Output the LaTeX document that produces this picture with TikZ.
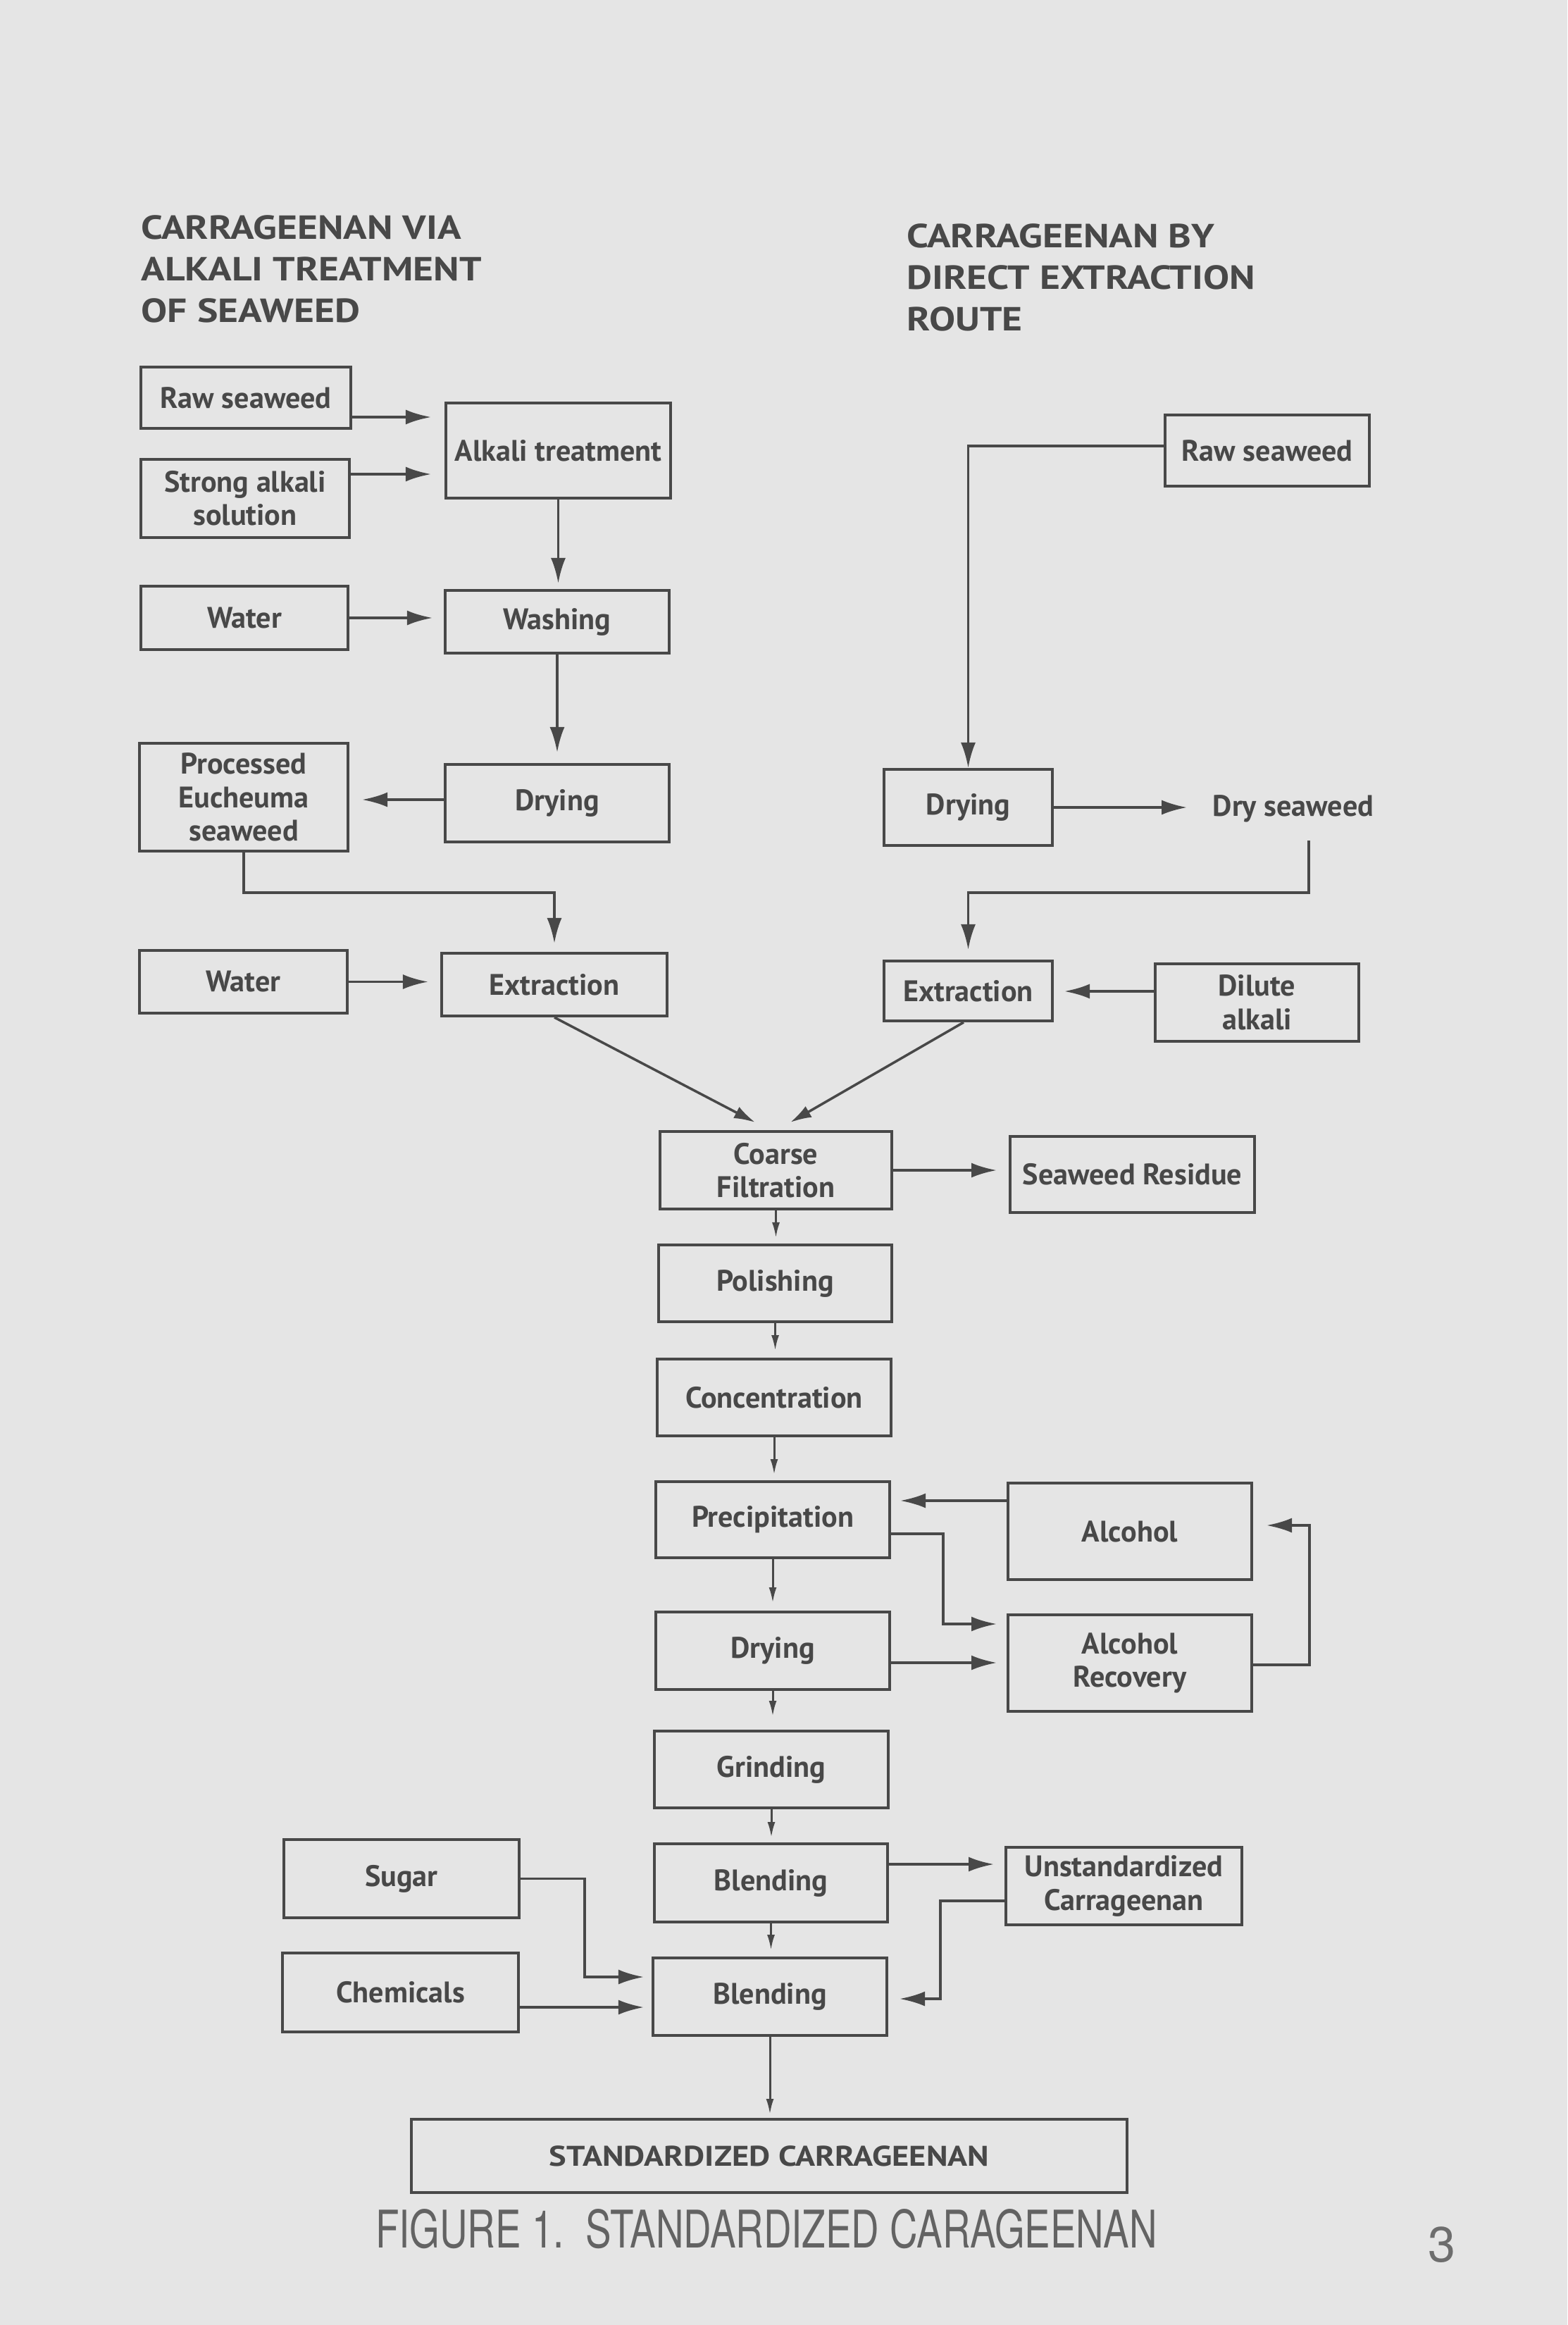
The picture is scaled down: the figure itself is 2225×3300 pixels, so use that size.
\documentclass[tikz,border=0pt]{standalone}
\usepackage{fontspec}
\setmainfont{PT Sans}
\newfontfamily\capfont{TeX Gyre Heros}
\usetikzlibrary{arrows.meta,calc}
\definecolor{bg}{RGB}{229,229,229}
\definecolor{ink}{RGB}{72,72,72}
\newcommand{\headlines}[3]{\scalebox{1.17}[1]{\begin{tabular}{@{}l@{}}#1\\#2\\#3\end{tabular}}}
\begin{document}
\begin{tikzpicture}[x=0.1mm,y=-0.1mm,
  box/.style={draw=ink, line width=1.15pt, align=center, inner sep=0pt,
    text=ink, font=\fontsize{12}{13.5}\selectfont\bfseries},
  plain/.style={inner sep=0pt, text=ink, font=\fontsize{12}{13.5}\selectfont\bfseries},
  head/.style={inner sep=0pt, text=ink, font=\fontsize{13.5}{16.8}\selectfont\bfseries},
  arr/.style={draw=ink, line width=1.1pt, -{Latex[length=3.6mm,width=2.1mm]}},
  darr/.style={draw=ink, line width=1.0pt, -{Latex[length=3.0mm,width=1.8mm]}},
  sarr/.style={draw=ink, line width=0.85pt, -{Latex[length=2.2mm,width=1.1mm]}}]
\fill[bg] (0,0) rectangle (2225,3300);
\useasboundingbox (0,0) rectangle (2225,3300);

% headings
\node[head, anchor=west] (hL) at (200,387) {\headlines{CARRAGEENAN VIA}{ALKALI TREATMENT}{OF SEAWEED}};
\node[head, anchor=west] (hR) at (1287,399) {\headlines{CARRAGEENAN BY}{DIRECT EXTRACTION}{ROUTE}};

% left route
\node[box, minimum width=29.8mm, minimum height=8.7mm] (rawL) at (349,564.5) {Raw seaweed};
\node[box, minimum width=29.6mm, minimum height=11.1mm] (alkSol) at (348,707.5) {Strong alkali\\solution};
\node[box, minimum width=31.9mm, minimum height=13.5mm] (alkaliT) at (792.5,639.5) {Alkali treatment};
\node[box, minimum width=29.4mm, minimum height=9.0mm] (waterL) at (347,877) {Water};
\node[box, minimum width=31.8mm, minimum height=8.9mm] (washing) at (791,882.5) {Washing};
\node[box, minimum width=31.8mm, minimum height=11.0mm] (dryingL) at (791,1140) {Drying};
\node[box, minimum width=29.6mm, minimum height=15.3mm] (processed) at (346,1131.5) {Processed\\Eucheuma\\seaweed};
\node[box, minimum width=29.5mm, minimum height=8.9mm] (water2) at (345.5,1393.5) {Water};
\node[box, minimum width=32.0mm, minimum height=8.9mm] (extrL) at (787,1397.5) {Extraction};

% right route
\node[box, minimum width=29.0mm, minimum height=10.1mm] (rawR) at (1799,639.5) {Raw seaweed};
\node[box, minimum width=23.9mm, minimum height=10.8mm] (dryingR) at (1374.5,1146) {Drying};
\node[plain] (dryS) at (1836,1148) {Dry seaweed};
\node[box, minimum width=23.9mm, minimum height=8.5mm] (extrR) at (1374.5,1406.5) {Extraction};
\node[box, minimum width=28.9mm, minimum height=11.0mm] (dilute) at (1784.5,1423) {Dilute\\alkali};

% common route
\node[box, minimum width=32.9mm, minimum height=11.0mm] (coarse) at (1101.5,1661) {Coarse\\Filtration};
\node[box, minimum width=34.7mm, minimum height=10.8mm] (residue) at (1607.5,1667) {Seaweed Residue};
\node[box, minimum width=33.1mm, minimum height=10.9mm] (polish) at (1100.5,1821.5) {Polishing};
\node[box, minimum width=33.2mm, minimum height=10.9mm] (conc) at (1099,1983.5) {Concentration};
\node[box, minimum width=33.2mm, minimum height=10.8mm] (precip) at (1097,2157) {Precipitation};
\node[box, minimum width=34.6mm, minimum height=13.7mm] (alcohol) at (1604,2173.5) {Alcohol};
\node[box, minimum width=33.2mm, minimum height=11.0mm] (dryingC) at (1097,2343) {Drying};
\node[box, minimum width=34.6mm, minimum height=13.7mm] (alcrec) at (1604,2360.5) {Alcohol\\Recovery};
\node[box, minimum width=33.2mm, minimum height=10.9mm] (grind) at (1095,2511.5) {Grinding};
\node[box, minimum width=33.1mm, minimum height=11.1mm] (blend1) at (1094.5,2672.5) {Blending};
\node[box, minimum width=33.2mm, minimum height=11.0mm] (blend2) at (1093,2834) {Blending};
\node[box, minimum width=33.4mm, minimum height=11.1mm] (sugar) at (570,2666.5) {Sugar};
\node[box, minimum width=33.5mm, minimum height=11.2mm] (chem) at (568.5,2828) {Chemicals};
\node[box, minimum width=33.5mm, minimum height=11.0mm] (unstd) at (1595.5,2677) {Unstandardized\\Carrageenan};
\node[box, minimum width=101.6mm, minimum height=10.4mm, font=\fontsize{11.5}{13}\selectfont\bfseries] (final) at (1092,3060) {\scalebox{1.15}[1]{STANDARDIZED CARRAGEENAN}};

% caption and page number
\node[inner sep=0pt, text=ink!85] (cap) at (1088,3164) {\resizebox{111mm}{5.5mm}{\capfont FIGURE 1.\ \ STANDARDIZED CARAGEENAN}};
\node[inner sep=0pt, text=ink!80, font=\capfont\fontsize{20}{22}\selectfont] (pnum) at (2047,3186) {3};

% connectors left route
\draw[arr] ($(rawL.east)+(0,27.5)$) -- ($(rawL.east -| alkaliT.west)+(-19,27.5)$);
\draw[arr] ($(alkSol.east)+(0,-34.5)$) -- ($(alkSol.east -| alkaliT.west)+(-19,-34.5)$);
\draw[arr] (alkaliT.south) -- ($(alkaliT.south |- washing.north)+(0,-8)$);
\draw[arr] (waterL.east) -- ($(waterL.east -| washing.west)+(-16,0)$);
\draw[arr] (washing.south) -- ($(washing.south |- dryingL.north)+(0,-15)$);
\draw[arr] ($(dryingL.west)+(0,-5)$) -- ($(dryingL.west -| processed.east)+(18,-5)$);
\draw[arr] (processed.south) -- ++(0,57) -| ($(extrL.north)+(0,-12)$);
\draw[arr] (water2.east) -- ($(water2.east -| extrL.west)+(-17,0)$);
\draw[darr] (extrL.south) -- ($(coarse.north)+(-29.5,-11)$);

% connectors right route
\draw[arr] ($(rawR.west)+(0,-6.5)$) -| (dryingR.north);
\draw[arr] (dryingR.east) -- ($(dryingR.east -| dryS.west)+(-36,0)$);
\draw[arr] ($(dryS.center)+(22,45)$) -- ++(0,74) -| ($(extrR.north)+(0,-14)$);
\draw[arr] ($(dilute.west)+(0,-16)$) -- ($(dilute.west -| extrR.east)+(15,-16)$);
\draw[darr] ($(extrR.south)+(-6.5,0)$) -- ($(coarse.north)+(20.5,-11)$);

% common route
\draw[arr] (coarse.east) -- ($(coarse.east -| residue.west)+(-17,0)$);
\draw[sarr] (coarse.south) -- ($(coarse.south |- polish.north)+(0,-8)$);
\draw[sarr] (polish.south) -- ($(polish.south |- conc.north)+(0,-10)$);
\draw[sarr] (conc.south) -- ($(conc.south |- precip.north)+(0,-8)$);
\draw[arr] ($(alcohol.west)+(0,-43.5)$) -- ($(alcohol.west -| precip.east)+(13,-43.5)$);
\draw[arr] ($(precip.east)+(0,20)$) -- ++(74,0) |- ($(alcrec.west)+(-14,-55.5)$);
\draw[sarr] (precip.south) -- ($(precip.south |- dryingC.north)+(0,-11)$);
\draw[arr] ($(dryingC.east)+(0,17)$) -- ($(dryingC.east -| alcrec.west)+(-14,17)$);
\draw[arr] ($(alcrec.east)+(0,2.5)$) -- ++(80,0) |- ($(alcohol.east)+(19,-8.5)$);
\draw[sarr] (dryingC.south) -- ($(dryingC.south |- grind.north)+(0,-19)$);
\draw[sarr] (grind.south) -- ($(grind.south |- blend1.north)+(0,-7)$);
\draw[arr] ($(blend1.east)+(0,-26.5)$) -- ($(blend1.east -| unstd.west)+(-15,-26.5)$);
\draw[sarr] (blend1.south) -- ($(blend1.south |- blend2.north)+(0,-9)$);
\draw[arr] (sugar.east) -- ++(91,0) |- ($(blend2.west)+(-11,-28)$);
\draw[arr] ($(chem.east)+(0,21)$) -- ($(chem.east -| blend2.west)+(-11,21)$);
\draw[arr] ($(unstd.west)+(0,21)$) -- ++(-91,0) |- ($(blend2.east)+(16,3)$);
\draw[sarr] (blend2.south) -- ($(blend2.south |- final.north)+(0,-5)$);
\end{tikzpicture}
\end{document}
